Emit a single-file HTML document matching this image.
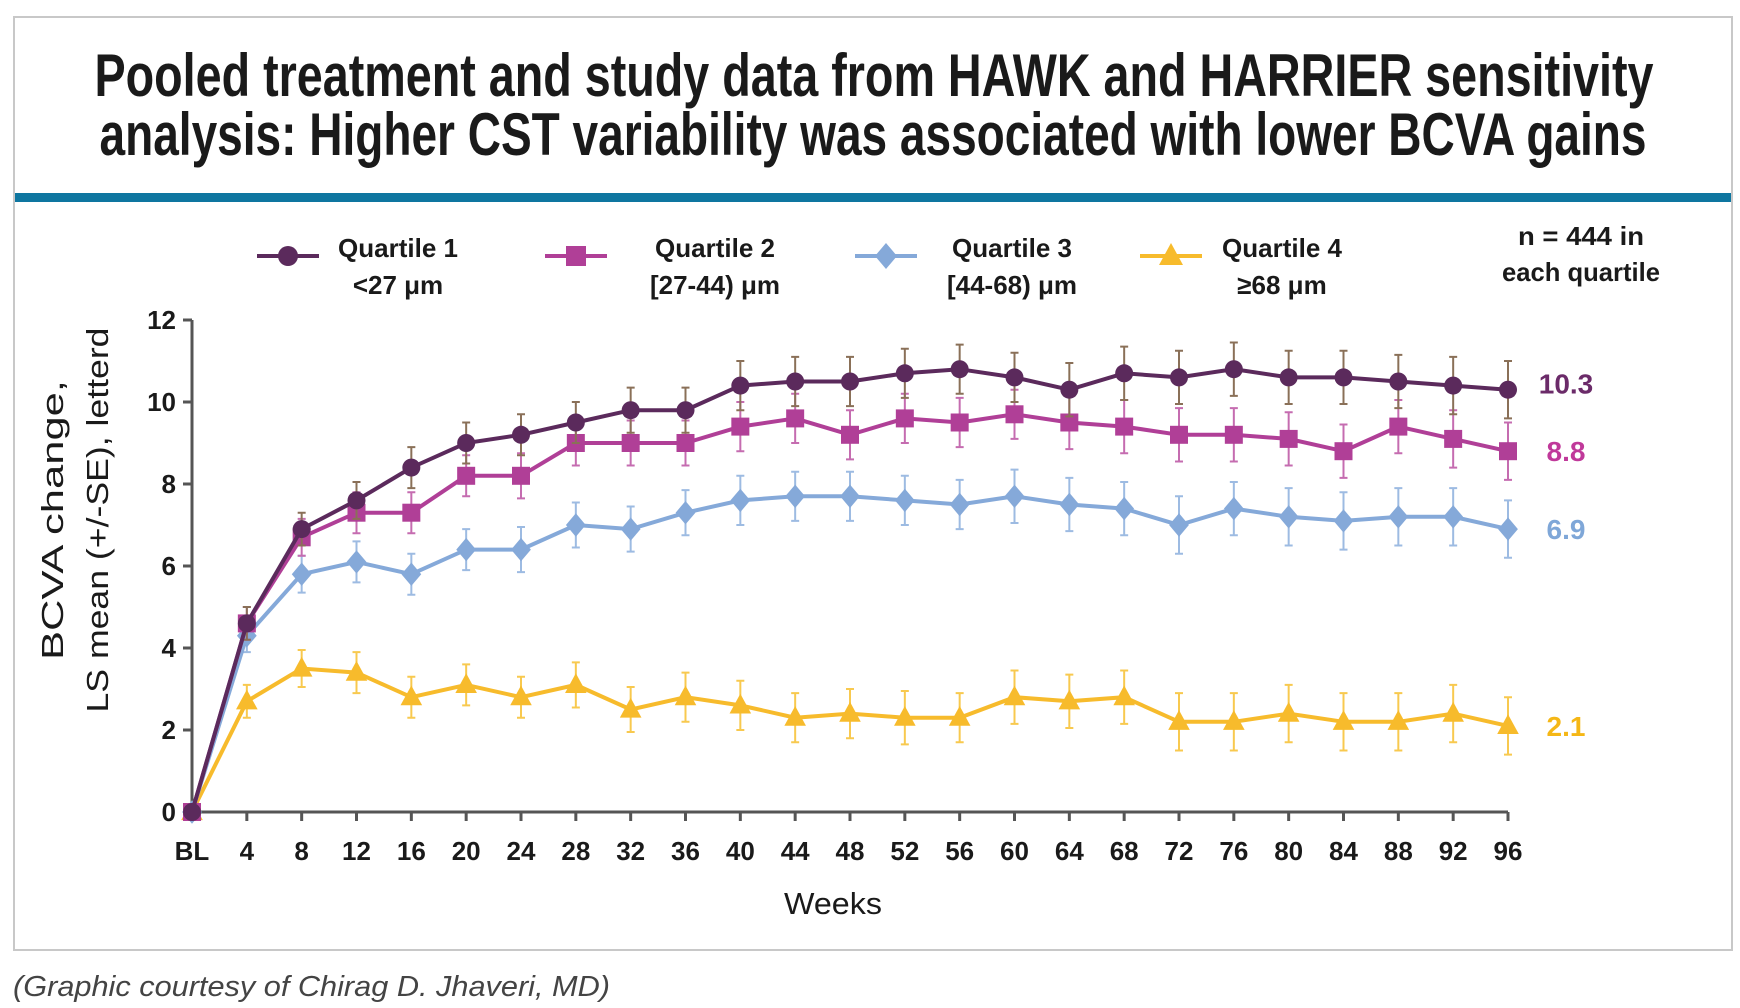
<!DOCTYPE html>
<html><head><meta charset="utf-8">
<style>
html,body{margin:0;padding:0;background:#fff;}
svg{display:block;font-family:"Liberation Sans",sans-serif;}
</style></head>
<body>
<svg id="chart" width="1740" height="1008" viewBox="0 0 1740 1008">
  <rect x="14" y="17" width="1718" height="933" fill="#fff" stroke="#c8c8c8" stroke-width="2"/>
  <text x="874" y="96" text-anchor="middle" font-size="60" font-weight="bold" fill="#1a1a1a" textLength="1559" lengthAdjust="spacingAndGlyphs">Pooled treatment and study data from HAWK and HARRIER sensitivity</text>
  <text x="873" y="155" text-anchor="middle" font-size="60" font-weight="bold" fill="#1a1a1a" textLength="1547" lengthAdjust="spacingAndGlyphs">analysis: Higher CST variability was associated with lower BCVA gains</text>
  <rect x="15" y="193" width="1716" height="9" fill="#0e76a0"/>

  <g id="legend"></g>
  <text x="1581" y="245" text-anchor="middle" font-size="26" font-weight="bold" fill="#1a1a1a" textLength="126" lengthAdjust="spacingAndGlyphs">n = 444 in</text>
  <text x="1581" y="281" text-anchor="middle" font-size="26" font-weight="bold" fill="#1a1a1a" textLength="158" lengthAdjust="spacingAndGlyphs">each quartile</text>

  <g id="axes"></g>
  <g id="series"></g>

  <text transform="translate(63,520) rotate(-90)" text-anchor="middle" font-size="31" fill="#1a1a1a" textLength="280" lengthAdjust="spacingAndGlyphs">BCVA change,</text>
  <text transform="translate(108,520) rotate(-90)" text-anchor="middle" font-size="31" fill="#1a1a1a" textLength="385" lengthAdjust="spacingAndGlyphs">LS mean (+/-SE), letterd</text>
  <text x="833" y="914" text-anchor="middle" font-size="31" fill="#1a1a1a" textLength="98" lengthAdjust="spacingAndGlyphs">Weeks</text>
  <text x="13" y="996" font-size="29" font-style="italic" fill="#444" textLength="597" lengthAdjust="spacingAndGlyphs">(Graphic courtesy of Chirag D. Jhaveri, MD)</text>
</svg>
<script>
const weeks = [0,4,8,12,16,20,24,28,32,36,40,44,48,52,56,60,64,68,72,76,80,84,88,92,96];
const xTickLabels = ["BL","4","8","12","16","20","24","28","32","36","40","44","48","52","56","60","64","68","72","76","80","84","88","92","96"];
const yTicks = [0,2,4,6,8,10,12];
const q1 = [0,4.6,6.9,7.6,8.4,9.0,9.2,9.5,9.8,9.8,10.4,10.5,10.5,10.7,10.8,10.6,10.3,10.7,10.6,10.8,10.6,10.6,10.5,10.4,10.3];
const q2 = [0,4.6,6.7,7.3,7.3,8.2,8.2,9.0,9.0,9.0,9.4,9.6,9.2,9.6,9.5,9.7,9.5,9.4,9.2,9.2,9.1,8.8,9.4,9.1,8.8];
const q3 = [0,4.3,5.8,6.1,5.8,6.4,6.4,7.0,6.9,7.3,7.6,7.7,7.7,7.6,7.5,7.7,7.5,7.4,7.0,7.4,7.2,7.1,7.2,7.2,6.9];
const q4 = [0,2.7,3.5,3.4,2.8,3.1,2.8,3.1,2.5,2.8,2.6,2.3,2.4,2.3,2.3,2.8,2.7,2.8,2.2,2.2,2.4,2.2,2.2,2.4,2.1];
const se1 = [0,0.4,0.4,0.45,0.5,0.5,0.5,0.5,0.55,0.55,0.6,0.6,0.6,0.6,0.6,0.6,0.65,0.65,0.65,0.65,0.65,0.65,0.65,0.7,0.7];
const se2 = [0,0.4,0.45,0.5,0.5,0.5,0.55,0.55,0.55,0.55,0.6,0.6,0.6,0.6,0.6,0.6,0.65,0.65,0.65,0.65,0.65,0.65,0.65,0.7,0.7];
const se3 = [0,0.4,0.45,0.5,0.5,0.5,0.55,0.55,0.55,0.55,0.6,0.6,0.6,0.6,0.6,0.65,0.65,0.65,0.7,0.65,0.7,0.7,0.7,0.7,0.7];
const se4 = [0,0.4,0.45,0.5,0.5,0.5,0.5,0.55,0.55,0.6,0.6,0.6,0.6,0.65,0.6,0.65,0.65,0.65,0.7,0.7,0.7,0.7,0.7,0.7,0.7];
const finalLabels = ["10.3","8.8","6.9","2.1"];
const legendTitles = ["Quartile 1","Quartile 2","Quartile 3","Quartile 4"];
const legendRanges = ["<27 μm","[27-44) μm","[44-68) μm","≥68 μm"];

const NS = "http://www.w3.org/2000/svg";
const X0 = 192, X1 = 1508, Y0 = 812, Y1 = 320;
function xs(w){ return X0 + (w - 0) / 96 * (X1 - X0); }
function ys(v){ return Y0 - v / 12 * (Y0 - Y1); }
function mk(tag, attrs, parent){ const e = document.createElementNS(NS, tag); for (const k in attrs) e.setAttribute(k, attrs[k]); parent.appendChild(e); return e; }

const axes = document.getElementById('axes');
const ax = mk('line', {x1:X0, y1:Y1, x2:X0, y2:Y0, stroke:'#555', 'stroke-width':3}, axes);


const bx = mk('line', {x1:X0, y1:Y0, x2:X1, y2:Y0, stroke:'#555', 'stroke-width':3}, axes);


yTicks.forEach(v => {
  const t = mk('line', {x1:X0-9, y1:ys(v), x2:X0, y2:ys(v), stroke:'#555', 'stroke-width':3}, axes);
  
  
  const l = mk('text', {x:176, y:ys(v)+9, 'text-anchor':'end', 'font-size':26, 'font-weight':'bold', fill:'#1a1a1a'}, axes);
  l.textContent = String(v);
  
  
});
weeks.forEach((w, i) => {
  const t = mk('line', {x1:xs(w), y1:Y0, x2:xs(w), y2:Y0+9, stroke:'#555', 'stroke-width':3}, axes);
  
  
  const l = mk('text', {x:xs(w), y:860, 'text-anchor':'middle', 'font-size':26, 'font-weight':'bold', fill:'#1a1a1a'}, axes);
  l.textContent = xTickLabels[i];
  
  
});

function marker(shape, cx, cy, color, parent, s){
  let e;
  if (shape === 'circle') e = mk('circle', {cx:cx, cy:cy, r:s, fill:color}, parent);
  else if (shape === 'square') e = mk('rect', {x:cx-s, y:cy-s, width:2*s, height:2*s, fill:color}, parent);
  else if (shape === 'diamond') e = mk('polygon', {points:`${cx},${cy-s*1.3} ${cx+s*1.1},${cy} ${cx},${cy+s*1.3} ${cx-s*1.1},${cy}`, fill:color}, parent);
  else e = mk('polygon', {points:`${cx},${cy-s*1.3} ${cx+s*1.2},${cy+s*0.9} ${cx-s*1.2},${cy+s*0.9}`, fill:color}, parent);
  return e;
}

const seriesDefs = [
  {name:'quartile-1', vals:q1, se:se1, color:'#5b2a5c', err:'#8a7058', label:'#6b2b69', shape:'circle'},
  {name:'quartile-2', vals:q2, se:se2, color:'#b03f97', err:'#c56cb0', label:'#c0399a', shape:'square'},
  {name:'quartile-3', vals:q3, se:se3, color:'#85a9d9', err:'#9dbbe2', label:'#7fa7d8', shape:'diamond'},
  {name:'quartile-4', vals:q4, se:se4, color:'#f7bb2c', err:'#f8c94f', label:'#f5b716', shape:'triangle'}
];
const sg = document.getElementById('series');
seriesDefs.slice().reverse().forEach((s) => {
  const g = mk('g', {}, sg);
  
  
  s.vals.forEach((v, i) => {
    if (s.se[i] <= 0) return;
    const x = xs(weeks[i]), ya = ys(v + s.se[i]), yb = ys(v - s.se[i]);
    const e = mk('path', {d:`M${x},${ya}V${yb}M${x-4},${ya}H${x+4}M${x-4},${yb}H${x+4}`, stroke:s.err, 'stroke-width':2, fill:'none'}, g);
    
    
  });
  const pts = s.vals.map((v, i) => `${xs(weeks[i])},${ys(v)}`).join(' ');
  const pl = mk('polyline', {points:pts, fill:'none', stroke:s.color, 'stroke-width':4}, g);
  
  
  s.vals.forEach((v, i) => {
    const m = marker(s.shape, xs(weeks[i]), ys(v), s.color, g, 9);
    
    
  });
});
const lastY = [q1[q1.length-1], q2[q2.length-1], q3[q3.length-1], q4[q4.length-1]];
seriesDefs.forEach((s, i) => {
  const t = mk('text', {x:1566, y:ys(lastY[i]) + 10 + (i === 0 ? -6 : 0), 'text-anchor':'middle', 'font-size':28, 'font-weight':'bold', fill:s.label}, sg);
  t.textContent = finalLabels[i];
  
  
});

const lg = document.getElementById('legend');
const legendMarkX = [288, 576, 886, 1171];
const legendTextX = [398, 715, 1012, 1282];
seriesDefs.forEach((s, i) => {
  const g = mk('g', {}, lg);
  
  
  mk('line', {x1:legendMarkX[i]-31, y1:256, x2:legendMarkX[i]+31, y2:256, stroke:s.color, 'stroke-width':4}, g);
  marker(s.shape, legendMarkX[i], 256, s.color, g, 10);
  const t1 = mk('text', {x:legendTextX[i], y:257, 'text-anchor':'middle', 'font-size':26, 'font-weight':'bold', fill:'#1a1a1a'}, g);
  t1.textContent = legendTitles[i];
  const t2 = mk('text', {x:legendTextX[i], y:294, 'text-anchor':'middle', 'font-size':26, 'font-weight':'bold', fill:'#1a1a1a'}, g);
  t2.textContent = legendRanges[i];
});
</script>
</body></html>
